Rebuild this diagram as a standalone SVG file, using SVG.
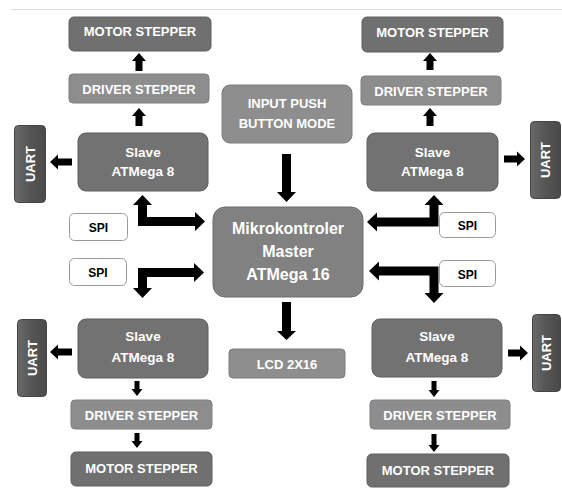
<svg xmlns="http://www.w3.org/2000/svg" width="562" height="488" viewBox="0 0 562 488">
<defs>
<linearGradient id="uartGrad" x1="0" y1="0" x2="1" y2="0">
<stop offset="0" stop-color="#6a6a6a"/>
<stop offset="0.5" stop-color="#555555"/>
<stop offset="1" stop-color="#4a4a4a"/>
</linearGradient>
<style>
text{font-family:"Liberation Sans",Arial,sans-serif;font-weight:bold;text-anchor:middle;fill:#ffffff}
.motor{fill:#707070;stroke:#5e5e5e;stroke-width:1}
.driver{fill:#8d8d8d;stroke:#7e7e7e;stroke-width:1}
.slave{fill:#727272;stroke:#5f5f5f;stroke-width:1}
.light{fill:#8e8e8e;stroke:#7c7c7c;stroke-width:1}
.master{fill:#818181;stroke:#6e6e6e;stroke-width:1}
.uart{fill:url(#uartGrad);stroke:#444;stroke-width:1}
.spi{fill:#ffffff;stroke:#9a9a9a;stroke-width:1}
.spi-t{fill:#000000;font-size:12px}
.t13{font-size:13px}
.t135{font-size:13.5px}
.t16{font-size:16px}
.arrow{fill:#000000}
</style>
</defs>
<rect width="562" height="488" fill="#ffffff"/>
<line x1="11" y1="9.5" x2="562" y2="9.5" stroke="#dedede" stroke-width="1"/>

<g id="connectors">
<!-- top-left chain -->
<polygon class="arrow" points="139,53 146,61 142.5,61 142.5,71 135.5,71 135.5,61 132,61"/>
<polygon class="arrow" points="139,108 146,116 142.5,116 142.5,126 135.5,126 135.5,116 132,116"/>
<!-- top-right chain -->
<polygon class="arrow" points="430,53 437,61 433.5,61 433.5,70 426.5,70 426.5,61 423,61"/>
<polygon class="arrow" points="430,108 437,116 433.5,116 433.5,126 426.5,126 426.5,116 423,116"/>
<!-- UART arrows -->
<polygon class="arrow" points="50,162 58,154.5 58,158.5 72,158.5 72,165.5 58,165.5 58,169.5"/>
<polygon class="arrow" points="525,159 517,151.5 517,155.5 504,155.5 504,162.5 517,162.5 517,166.5"/>
<polygon class="arrow" points="50,352 58,344.5 58,348.5 72,348.5 72,355.5 58,355.5 58,359.5"/>
<polygon class="arrow" points="528,353 520,345.5 520,349.5 508,349.5 508,356.5 520,356.5 520,360.5"/>
<!-- input to master, master to LCD -->
<polygon class="arrow" points="282,154 291,154 291,192 296,192 286.5,202 277,192 282,192"/>
<polygon class="arrow" points="282,302 291,302 291,331 296,331 286.5,340 277,331 282,331"/>
<!-- SPI connectors -->
<polygon class="arrow" points="142.5,195 152,205 147,205 147,217 195,217 195,212 205,221.5 195,231 195,226 138,226 138,205 133,205"/>
<polygon class="arrow" points="138,268 194,268 194,263 204,272.5 194,282 194,277 147,277 147,288 152,288 142.5,298 133,288 138,288"/>
<polygon class="arrow" points="367,222 377,212.5 377,217.5 429.5,217.5 429.5,205 424.5,205 434,195 443.5,205 438.5,205 438.5,226.5 377,226.5 377,231.5"/>
<polygon class="arrow" points="369,271 379,261.5 379,266.5 438.5,266.5 438.5,293 443.5,293 434,303 424.5,293 429.5,293 429.5,275.5 379,275.5 379,280.5"/>
<!-- bottom-left chain -->
<polygon class="arrow" points="134.5,381 139.5,381 139.5,389 142.5,389 137,396 131.5,389 134.5,389"/>
<polygon class="arrow" points="134.5,433 139.5,433 139.5,441 142.5,441 137,448 131.5,441 134.5,441"/>
<!-- bottom-right chain -->
<polygon class="arrow" points="431.5,381 436.5,381 436.5,390 439.5,390 434,397 428.5,390 431.5,390"/>
<polygon class="arrow" points="431.5,434 436.5,434 436.5,445 439.5,445 434,452 428.5,445 431.5,445"/>
</g>

<g id="motor-tl"><rect class="motor" x="69" y="17" width="142" height="34" rx="5"/><text class="t13" x="140" y="35.5">MOTOR STEPPER</text></g>
<g id="driver-tl"><rect class="driver" x="69" y="74" width="140" height="29" rx="4"/><text class="t13" x="139" y="93.5">DRIVER STEPPER</text></g>
<g id="slave-tl"><rect class="slave" x="78" y="133" width="130" height="58" rx="8"/><text class="t135" x="143" y="157">Slave</text><text class="t135" x="143" y="176">ATMega 8</text></g>
<g id="uart-tl"><rect class="uart" x="14.5" y="125.5" width="31" height="77" rx="4"/><text class="t13" transform="translate(30,164) rotate(-90)" x="0" y="4.5">UART</text></g>

<g id="motor-tr"><rect class="motor" x="362" y="17" width="141" height="35" rx="5"/><text class="t13" x="432.5" y="37">MOTOR STEPPER</text></g>
<g id="driver-tr"><rect class="driver" x="361" y="76" width="140" height="29" rx="4"/><text class="t13" x="431" y="95.5">DRIVER STEPPER</text></g>
<g id="slave-tr"><rect class="slave" x="367" y="133" width="131" height="58" rx="8"/><text class="t135" x="432.5" y="157">Slave</text><text class="t135" x="432.5" y="176">ATMega 8</text></g>
<g id="uart-tr"><rect class="uart" x="530.5" y="121.5" width="30" height="77" rx="4"/><text class="t13" transform="translate(545.5,160) rotate(-90)" x="0" y="4.5">UART</text></g>

<g id="input"><rect class="light" x="222" y="85" width="130" height="58" rx="8"/><text class="t13" x="287" y="108">INPUT PUSH</text><text class="t13" x="287" y="128">BUTTON MODE</text></g>
<g id="master"><rect class="master" x="213" y="207" width="150" height="90" rx="12"/><text class="t16" x="288" y="234">Mikrokontroler</text><text class="t16" x="288" y="257">Master</text><text class="t16" x="288" y="280">ATMega 16</text></g>
<g id="lcd"><rect class="light" x="229" y="349" width="116" height="29" rx="4"/><text class="t13" x="287" y="369">LCD 2X16</text></g>

<g id="spi-tl"><rect class="spi" x="69.5" y="213.5" width="58" height="27" rx="5"/><text class="spi-t" x="98.5" y="232">SPI</text></g>
<g id="spi-bl"><rect class="spi" x="69.5" y="258.5" width="57" height="27" rx="5"/><text class="spi-t" x="98" y="277">SPI</text></g>
<g id="spi-tr"><rect class="spi" x="439.5" y="212.5" width="56" height="25" rx="5"/><text class="spi-t" x="467.5" y="230">SPI</text></g>
<g id="spi-br"><rect class="spi" x="439.5" y="260.5" width="56" height="26" rx="5"/><text class="spi-t" x="467.5" y="279">SPI</text></g>

<g id="slave-bl"><rect class="slave" x="78" y="319" width="130" height="59" rx="8"/><text class="t135" x="143" y="341">Slave</text><text class="t135" x="143" y="362">ATMega 8</text></g>
<g id="uart-bl"><rect class="uart" x="17.5" y="319.5" width="29" height="77" rx="4"/><text class="t13" transform="translate(32,358) rotate(-90)" x="0" y="4.5">UART</text></g>
<g id="driver-bl"><rect class="driver" x="71" y="400" width="141" height="29" rx="4"/><text class="t13" x="141.5" y="420">DRIVER STEPPER</text></g>
<g id="motor-bl"><rect class="motor" x="71" y="452" width="141" height="34" rx="5"/><text class="t13" x="141.5" y="473">MOTOR STEPPER</text></g>

<g id="slave-br"><rect class="slave" x="372" y="319" width="130" height="58" rx="8"/><text class="t135" x="437" y="341">Slave</text><text class="t135" x="437" y="362">ATMega 8</text></g>
<g id="uart-br"><rect class="uart" x="532.5" y="314.5" width="28" height="77" rx="4"/><text class="t13" transform="translate(546.5,353) rotate(-90)" x="0" y="4.5">UART</text></g>
<g id="driver-br"><rect class="driver" x="370" y="400" width="140" height="29" rx="4"/><text class="t13" x="440" y="420">DRIVER STEPPER</text></g>
<g id="motor-br"><rect class="motor" x="367" y="454" width="142" height="33" rx="5"/><text class="t13" x="438" y="475">MOTOR STEPPER</text></g>
</svg>
